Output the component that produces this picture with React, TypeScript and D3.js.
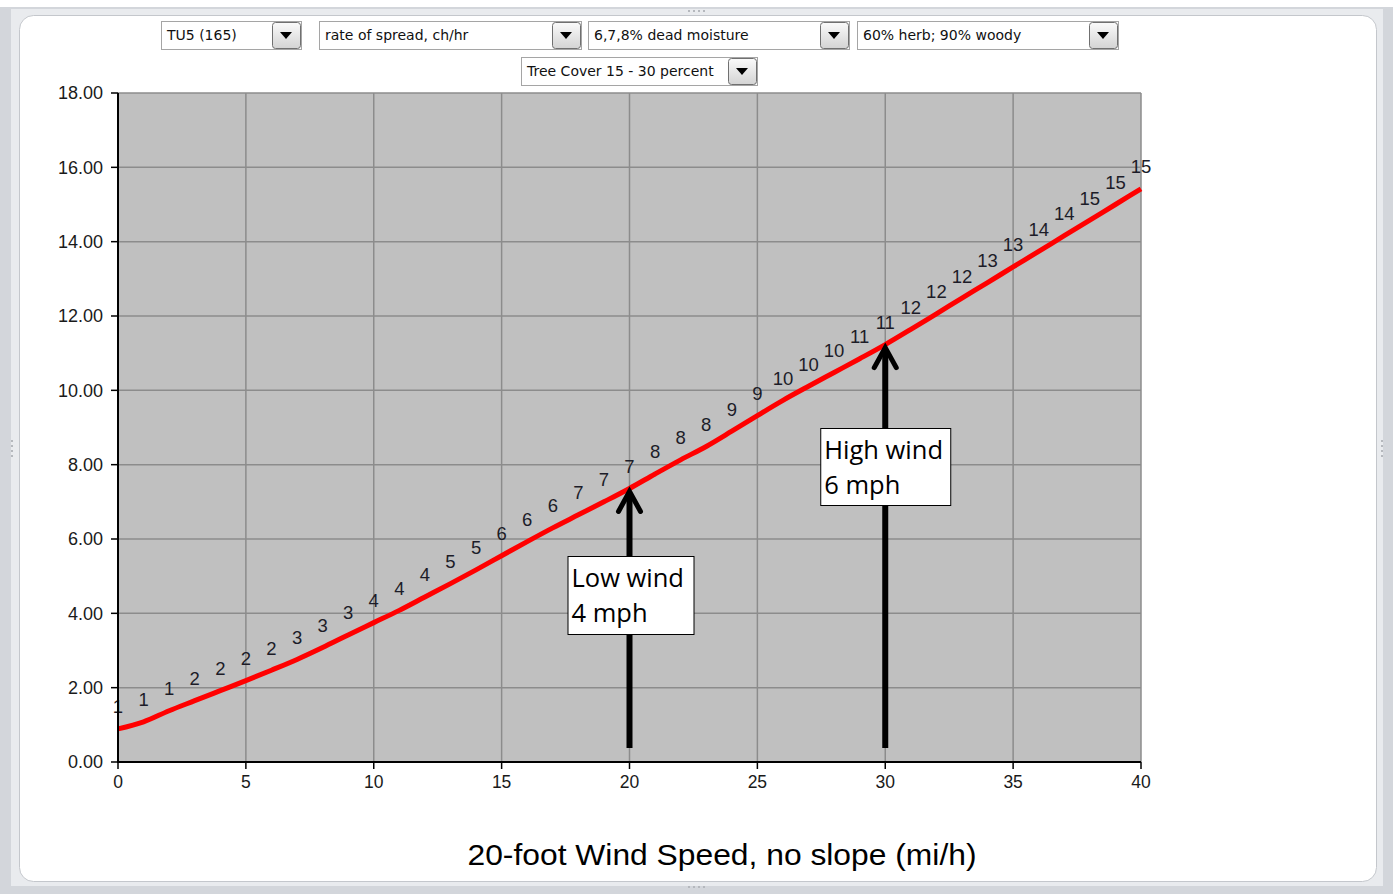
import React from 'react';
import * as d3 from 'd3';

// 20-ft wind speed (mi/h), no slope
const windSpeeds = [
  0, 1, 2, 3, 4, 5, 6, 7, 8, 9, 10, 11, 12, 13, 14, 15, 16, 17, 18, 19, 20,
  21, 22, 23, 24, 25, 26, 27, 28, 29, 30, 31, 32, 33, 34, 35, 36, 37, 38, 39, 40,
];

// rate of spread, ch/hr
const spreadRate = [
  0.89, 1.08, 1.38, 1.65, 1.92, 2.19, 2.47, 2.76, 3.08, 3.42, 3.75, 4.08, 4.44, 4.8,
  5.17, 5.55, 5.93, 6.3, 6.65, 7.0, 7.36, 7.75, 8.13, 8.49, 8.9, 9.32, 9.73,
  10.11, 10.48, 10.85, 11.23, 11.64, 12.06, 12.48, 12.9, 13.32, 13.74, 14.16,
  14.58, 15.0, 15.42,
];

// data labels printed above each point
const pointLabels = [
  1, 1, 1, 2, 2, 2, 2, 3, 3, 3, 4, 4, 4, 5, 5, 6, 6, 6, 7, 7, 7, 8, 8, 8, 9, 9,
  10, 10, 10, 11, 11, 12, 12, 12, 13, 13, 14, 14, 15, 15, 15,
];

const xTicks = [0, 5, 10, 15, 20, 25, 30, 35, 40];
const yTicks = [0, 2, 4, 6, 8, 10, 12, 14, 16, 18];

const dropdowns = [
  { label: 'TU5 (165)', x: 161, y: 21, w: 140 },
  { label: 'rate of spread, ch/hr', x: 319, y: 21, w: 262 },
  { label: '6,7,8% dead moisture', x: 588, y: 21, w: 261 },
  { label: '60% herb; 90% woody', x: 857, y: 21, w: 261 },
  { label: 'Tree Cover 15 - 30 percent', x: 521, y: 57, w: 236 },
];

const callouts = [
  { wind: 20, lines: ['Low wind', '4 mph'], box: { dx: -62, y: 556, w: 126, h: 78 } },
  { wind: 30, lines: ['High wind', '6 mph'], box: { dx: -65, y: 428, w: 130, h: 77 } },
];

const W = 1393;
const H = 894;
const plot = { left: 118, right: 1141, top: 93, bottom: 762 };

const Dropdown: React.FC<{ label: string; x: number; y: number; w: number }> = ({ label, x, y, w }) => {
  const h = 28;
  const bw = 30;
  const bx = x + w - bw;
  const cx = bx + bw / 2;
  const cy = y + h / 2;
  return (
    <g>
      <rect x={x + 0.5} y={y + 0.5} width={w} height={h} fill="#fff" stroke="#a5a5a5" />
      <text x={x + 6} y={y + 19} fontFamily="'DejaVu Sans', sans-serif" fontSize={14} fill="#111">
        {label}
      </text>
      <rect x={bx + 1.5} y={y + 1.5} width={bw - 2} height={h - 2} rx={3} fill="url(#btnGrad)" stroke="#707070" />
      <path d={`M${cx - 6},${cy - 3} L${cx + 6},${cy - 3} L${cx},${cy + 4} Z`} fill="#000" />
    </g>
  );
};

const App: React.FC = () => {
  const x = d3.scaleLinear().domain([0, 40]).range([plot.left, plot.right]);
  const y = d3.scaleLinear().domain([0, 18]).range([plot.bottom, plot.top]);
  const fmt = d3.format('.2f');

  const data = windSpeeds.map((w, i) => [w, spreadRate[i]] as [number, number]);
  const line = d3.line<[number, number]>()
    .x(d => x(d[0]))
    .y(d => y(d[1]))
    .curve(d3.curveMonotoneX);

  const valueAt = (w: number) => spreadRate[windSpeeds.indexOf(w)];

  return (
    <svg width={W} height={H} style={{ position: 'absolute', left: 0, top: 0 }}>
      <defs>
        <linearGradient id="btnGrad" x1="0" y1="0" x2="0" y2="1">
          <stop offset="0%" stopColor="#fafafa" />
          <stop offset="100%" stopColor="#d4d4d4" />
        </linearGradient>
      </defs>

      {/* window chrome */}
      <rect x={0} y={0} width={W} height={H} fill="#d3d6db" />
      <rect x={0} y={0} width={W} height={7} fill="#fff" />
      <rect x={11} y={9} width={1372} height={877} fill="#e9ebee" />
      <rect x={19.5} y={15.5} width={1357} height={866} rx={14} fill="#fff" stroke="#c4c7cc" />
      {[0, 1, 2, 3].map(i => (
        <rect key={'gl' + i} x={11} y={440 + i * 5} width={2} height={2} fill="#b5b8bd" />
      ))}
      {[0, 1, 2, 3].map(i => (
        <rect key={'gr' + i} x={1381} y={440 + i * 5} width={2} height={2} fill="#b5b8bd" />
      ))}
      {[0, 1, 2, 3].map(i => (
        <rect key={'gt' + i} x={688 + i * 5} y={10} width={2} height={2} fill="#b5b8bd" />
      ))}
      {[0, 1, 2, 3].map(i => (
        <rect key={'gb' + i} x={688 + i * 5} y={886} width={2} height={2} fill="#b5b8bd" />
      ))}

      {dropdowns.map(d => (
        <Dropdown key={d.label} {...d} />
      ))}

      {/* plot area */}
      <rect x={plot.left} y={plot.top} width={plot.right - plot.left} height={plot.bottom - plot.top} fill="#c0c0c0" />
      {xTicks.filter(t => t > 0).map(t => (
        <line key={'gx' + t} x1={x(t)} x2={x(t)} y1={plot.top} y2={plot.bottom} stroke="#8c8c8c" strokeWidth={1.5} />
      ))}
      {yTicks.filter(t => t > 0).map(t => (
        <line key={'gy' + t} x1={plot.left} x2={plot.right} y1={y(t)} y2={y(t)} stroke="#8c8c8c" strokeWidth={1.5} />
      ))}

      {/* data labels */}
      {data.map((d, i) => (
        <text
          key={'lb' + i}
          x={x(d[0])}
          y={y(d[1]) - 22}
          dy="0.35em"
          textAnchor="middle"
          fontFamily="'Liberation Sans', Arial, sans-serif"
          fontSize={18.5}
          fill="#1c1c28"
        >
          {pointLabels[i]}
        </text>
      ))}

      {/* red curve */}
      <path d={line(data) || ''} fill="none" stroke="#ff0000" strokeWidth={5} strokeLinejoin="round" />

      {/* axes */}
      <line x1={plot.left} x2={plot.left} y1={plot.top} y2={plot.bottom + 1} stroke="#000" strokeWidth={2} />
      <line x1={plot.left - 1} x2={plot.right} y1={plot.bottom} y2={plot.bottom} stroke="#000" strokeWidth={2} />
      {yTicks.map(t => (
        <g key={'yt' + t}>
          <line x1={plot.left - 7} x2={plot.left} y1={y(t)} y2={y(t)} stroke="#000" strokeWidth={1.5} />
          <text
            x={plot.left - 15}
            y={y(t)}
            dy="0.35em"
            textAnchor="end"
            fontFamily="'Liberation Sans', Arial, sans-serif"
            fontSize={18}
            fill="#1a1a1a"
          >
            {fmt(t)}
          </text>
        </g>
      ))}
      {xTicks.map(t => (
        <g key={'xt' + t}>
          <line x1={x(t)} x2={x(t)} y1={plot.bottom} y2={plot.bottom + 7} stroke="#000" strokeWidth={1.5} />
          <text
            x={x(t)}
            y={plot.bottom + 26}
            textAnchor="middle"
            fontFamily="'Liberation Sans', Arial, sans-serif"
            fontSize={17.5}
            fill="#1a1a1a"
          >
            {t}
          </text>
        </g>
      ))}
      <text
        x={722}
        y={865}
        textAnchor="middle"
        fontFamily="'Liberation Sans', Arial, sans-serif"
        fontSize={30}
        textLength={509}
        lengthAdjust="spacingAndGlyphs"
        fill="#000"
      >
        20-foot Wind Speed, no slope (mi/h)
      </text>

      {/* callout arrows */}
      {callouts.map(c => {
        const ax = x(c.wind);
        const tip = y(valueAt(c.wind)) + 3;
        return (
          <g key={'ar' + c.wind}>
            <line x1={ax} x2={ax} y1={748} y2={tip + 2} stroke="#000" strokeWidth={6} />
            <path
              d={`M${ax - 11},${tip + 20} L${ax},${tip} L${ax + 11},${tip + 20}`}
              fill="none"
              stroke="#000"
              strokeWidth={5}
              strokeLinecap="round"
              strokeLinejoin="miter"
            />
            <rect x={ax + c.box.dx + 0.5} y={c.box.y + 0.5} width={c.box.w} height={c.box.h} fill="#fff" stroke="#000" />
            {c.lines.map((t, i) => (
              <text
                key={t}
                x={ax + c.box.dx + 4}
                y={c.box.y + 31 + i * 35}
                fontFamily="'Open Sans', sans-serif"
                fontSize={25.5}
                fill="#000"
              >
                {t}
              </text>
            ))}
          </g>
        );
      })}
    </svg>
  );
};

export default App;
